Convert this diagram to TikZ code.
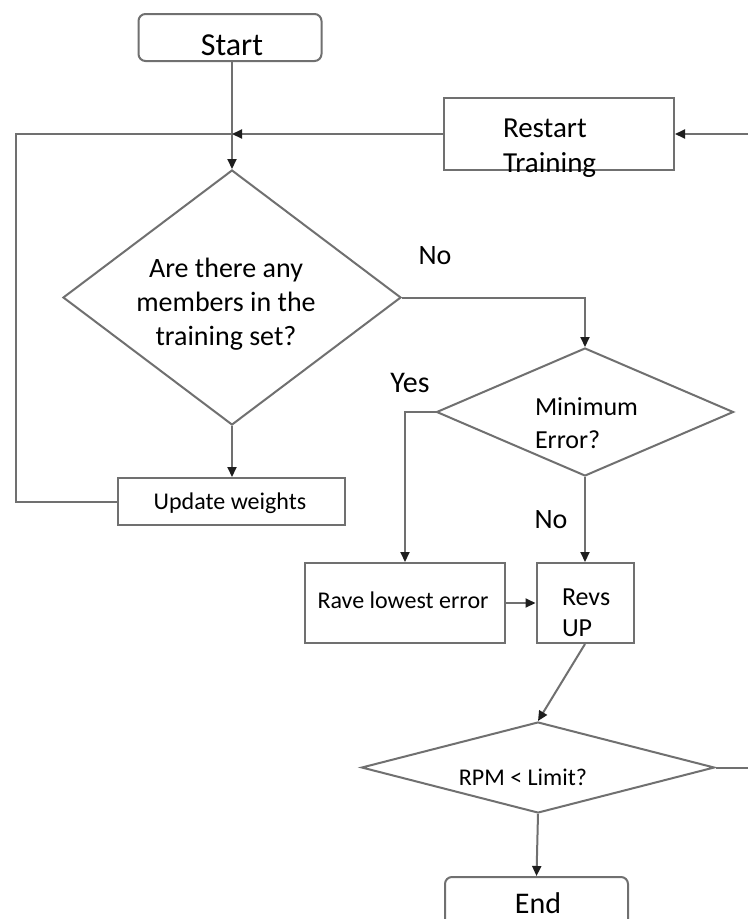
\documentclass[tikz,border=0pt]{standalone}
\usepackage{fontspec}
\setmainfont{Carlito}
\usetikzlibrary{shapes.geometric,arrows.meta}
\definecolor{linegray}{RGB}{112,112,112}
\definecolor{tipgray}{RGB}{30,30,30}
\begin{document}
\begin{tikzpicture}[x=1pt,y=-1pt,
  line/.style={draw=linegray,line width=2pt},
  arr/.style={line,-{Triangle[length=10pt,width=9pt,color=tipgray]}},
  box/.style={draw=linegray,line width=2pt,rectangle,inner sep=0pt,fill=white},
  term/.style={box,rounded corners=7pt},
  decision/.style={draw=linegray,line width=2pt,diamond,inner sep=0pt,fill=white},
  lbl/.style={inner sep=0pt,text=black},
  fs/.style 2 args={font=\fontsize{#1}{#2}\selectfont}
]
\useasboundingbox (0,0) rectangle (748,919);
\clip (0,0) rectangle (748,919);
\fill[white] (0,0) rectangle (748,919);

% blocks
\node[term,minimum width=183pt,minimum height=47pt] (start) at (230,37.5) {};
\node[lbl,fs={32pt}{38pt}] (startlbl) at (232,45) {Start};

\node[box,minimum width=230pt,minimum height=72pt] (restart) at (559,134) {};
\node[lbl,fs={29pt}{35pt},align=left,text width=100pt] (restartlbl) at (553,148.5)
  {Restart\\Training};

\node[decision,minimum width=338pt,minimum height=255pt] (q) at (232,297.5) {};
\node[lbl,fs={28pt}{34pt},align=center] (qlbl) at (226,304.5)
  {Are there any\\members in the\\training set?};

\node[box,minimum width=227pt,minimum height=47pt] (upd) at (231.5,501.5) {};
\node[lbl,fs={24pt}{29pt}] (updlbl) at (230,503) {Update weights};

\node[decision,minimum width=297pt,minimum height=128pt] (me) at (585,412) {};
\node[lbl,fs={26pt}{33pt},align=left,text width=110pt] (melbl) at (590,423.5)
  {Minimum\\Error?};

\node[box,minimum width=200pt,minimum height=80pt] (rave) at (405,603) {};
\node[lbl,fs={24pt}{29pt}] (ravelbl) at (403,600) {Rave lowest error};

\node[box,minimum width=97pt,minimum height=80pt] (revs) at (585,603) {};
\node[lbl,fs={26pt}{31pt},align=left,text width=50pt] (revslbl) at (587,612.5)
  {Revs\\UP};

\node[decision,minimum width=353pt,minimum height=91pt] (rpm) at (538,767.5) {};
\node[lbl,fs={24pt}{29pt}] (rpmlbl) at (523,777) {RPM < Limit?};

\node[term,minimum width=183pt,minimum height=64pt] (end) at (536.5,909) {};
\node[lbl,fs={30pt}{36pt}] (endlbl) at (538,903) {End};

% branch labels
\node[lbl,fs={28pt}{34pt}] (nolbl1) at (435,256) {No};
\node[lbl,fs={30pt}{36pt}] (yeslbl) at (410,383) {Yes};
\node[lbl,fs={28pt}{34pt}] (nolbl2) at (551,520) {No};

% junction and free ends
\coordinate (j) at (232,134);
\coordinate (lft) at (16,134);
\coordinate (rin) at (748,134);
\coordinate (rout) at (748,767.5);

% connectors
\draw[line] (start.south -| j) -- (j);
\draw[arr] (j) -- (q.north);
\draw[arr] (restart.west) -- (j);
\draw[arr] (rin) -- (restart.east);
\draw[line] (upd.west) -| (lft) -- (j);
\draw[arr] (q.south) -- (upd.north -| q.south);
\draw[arr] (q.east) -| (me.north);
\draw[arr] (me.west) -| (rave.north);
\draw[arr] (me.south) -- (revs.north);
\draw[arr] (rave.east) -- (revs.west);
\draw[arr] (revs.south) -- (rpm.north);
\draw[line] (rpm.east) -- (rout);
\draw[arr] (rpm.south) -- (end.north);
\end{tikzpicture}
\end{document}
